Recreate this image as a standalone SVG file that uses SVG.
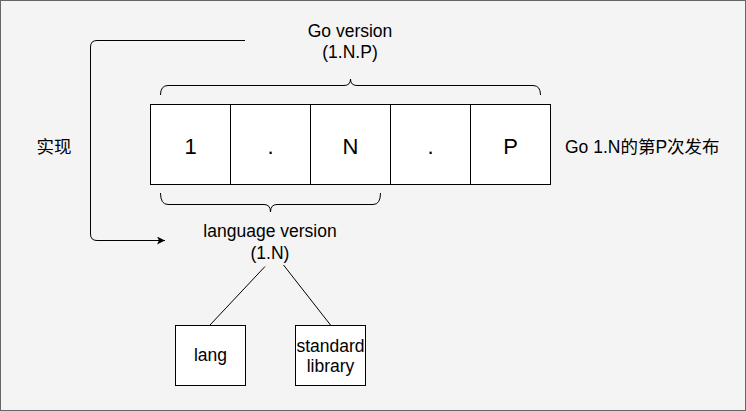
<svg xmlns="http://www.w3.org/2000/svg" width="746" height="411" viewBox="0 0 746 411">
<style>
.t{font-family:"Liberation Sans",Arial,"Noto Sans CJK SC",sans-serif;font-size:17.5px;fill:#000;text-anchor:middle}
.c{font-family:"Liberation Sans",Arial,sans-serif;font-size:22px;fill:#000;text-anchor:middle}
.box{fill:#fff;stroke:#000;stroke-width:1}
.ln{fill:none;stroke:#000;stroke-width:1}
</style>
<defs>
<marker id="arr" markerWidth="10" markerHeight="10" refX="8" refY="4" orient="auto" markerUnits="userSpaceOnUse">
<path d="M0,0 L8,4 L0,8 L2,4 Z" fill="#000"/>
</marker>
</defs>
<rect x="0.5" y="0.5" width="745" height="410" fill="#f4f4f4" stroke="#666" stroke-width="1"/>
<g id="cells">
<g id="cell1"><rect class="box" x="150.5" y="104.5" width="80" height="80"/><text class="c" x="190.5" y="154">1</text></g>
<g id="cell2"><rect class="box" x="230.5" y="104.5" width="80" height="80"/><text class="c" x="270.5" y="154">.</text></g>
<g id="cell3"><rect class="box" x="310.5" y="104.5" width="80" height="80"/><text class="c" x="350.5" y="154">N</text></g>
<g id="cell4"><rect class="box" x="390.5" y="104.5" width="80" height="80"/><text class="c" x="430.5" y="154">.</text></g>
<g id="cell5"><rect class="box" x="470.5" y="104.5" width="80" height="80"/><text class="c" x="510.5" y="154">P</text></g>
</g>
<g id="go-version"><text class="t" x="350" y="37">Go version</text><text class="t" x="350" y="58">(1.N.P)</text></g>
<g id="lang-version"><text class="t" x="270" y="237">language version</text><text class="t" x="270" y="259">(1.N)</text></g>
<g id="release-label"><text class="t" x="565" y="153" style="text-anchor:start">Go 1.N的第P次发布</text></g>
<g id="impl-label"><text class="t" x="54" y="153">实现</text></g>
<g id="lang"><rect class="box" x="175.5" y="325.5" width="70" height="60"/><text class="t" x="210.5" y="361">lang</text></g>
<g id="stdlib"><rect class="box" x="295.5" y="325.5" width="70" height="60"/><text class="t" x="330.5" y="352">standard</text><text class="t" x="330.5" y="372">library</text></g>
<g id="connectors">
<path class="ln" d="M160.5,95 Q160.5,85.5 168,85.5 H344 Q350.5,85.5 350.5,79 Q350.5,85.5 357,85.5 H533 Q540.5,85.5 540.5,95"/>
<path class="ln" d="M160.5,193 Q160.5,204.5 168,204.5 H264 Q270.5,204.5 270.5,212 Q270.5,204.5 277,204.5 H373 Q380.5,204.5 380.5,193"/>
<path class="ln" d="M245,40.5 H97 Q90.5,40.5 90.5,47 V234 Q90.5,240.5 97,240.5 H165" marker-end="url(#arr)"/>
<path class="ln" d="M265,266.5 L210,325"/>
<path class="ln" d="M283.5,265 L330.5,325"/>
</g>
</svg>
